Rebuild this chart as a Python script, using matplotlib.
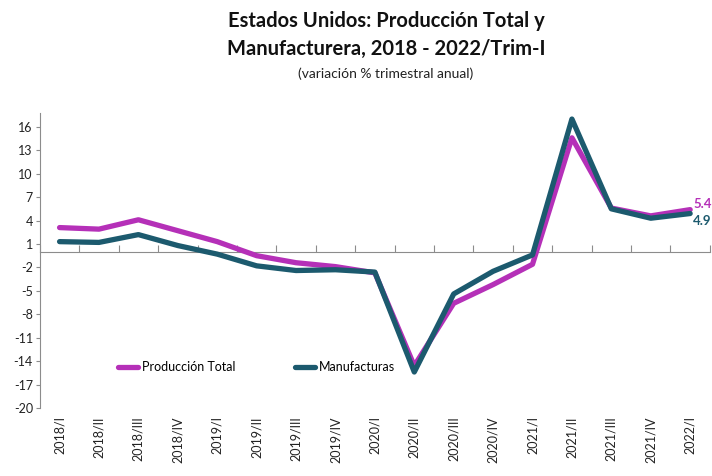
import matplotlib.pyplot as plt
import numpy as np

# Quarterly annual % change, US total and manufacturing output
quarters = ["2018/I", "2018/II", "2018/III", "2018/IV",
            "2019/I", "2019/II", "2019/III", "2019/IV",
            "2020/I", "2020/II", "2020/III", "2020/IV",
            "2021/I", "2021/II", "2021/III", "2021/IV",
            "2022/I"]
produccion_total = [3.1, 2.9, 4.1, 2.7, 1.3, -0.5, -1.4, -1.9,
                    -2.7, -14.6, -6.6, -4.2, -1.6, 14.6, 5.6, 4.6, 5.4]
manufacturas = [1.3, 1.2, 2.2, 0.8, -0.3, -1.8, -2.4, -2.3,
                -2.6, -15.4, -5.4, -2.5, -0.4, 17.0, 5.5, 4.3, 4.9]
yticks = [16, 13, 10, 7, 4, 1, -2, -5, -8, -11, -14, -17, -20]

COL_TOTAL = "#B530B8"
COL_MANUF = "#1C5A6E"
GRIS = "#8C8C8C"
FONT = "Lato"

plt.rcParams["font.family"] = [FONT, "DejaVu Sans"]

fig = plt.figure(figsize=(7.12, 4.76), dpi=100)
ax = fig.add_axes([0.056, 0.143, 0.941, 0.62])

x = np.arange(len(quarters))
ax.plot(x, produccion_total, color=COL_TOTAL, lw=3.8,
        solid_capstyle="round", solid_joinstyle="round",
        label="Producción Total", zorder=3)
ax.plot(x, manufacturas, color=COL_MANUF, lw=3.8,
        solid_capstyle="round", solid_joinstyle="round",
        label="Manufacturas", zorder=4)

ymin, ymax = -20, 17.8
ax.set_ylim(ymin, ymax)
ax.set_xlim(-0.5, len(quarters) - 0.5)

# y axis
ax.set_yticks(yticks)
ax.set_yticklabels([str(v) for v in yticks], fontsize=9, color="#222222")
ax.tick_params(axis="y", length=3, width=0.8, color=GRIS, pad=2)
ax.spines["left"].set_color(GRIS)
ax.spines["left"].set_linewidth(0.8)
for s in ("top", "right", "bottom"):
    ax.spines[s].set_visible(False)

# category labels at the bottom, rotated
ax.set_xticks(x)
ax.set_xticklabels(quarters, rotation=90, fontsize=9, color="#222222")
ax.tick_params(axis="x", length=0, pad=6)

# zero line with category boundary ticks
zero_frac = (0 - ymin) / (ymax - ymin)
zx = ax.secondary_xaxis(zero_frac)
zx.set_xticks(np.arange(len(quarters) + 1) - 0.5)
zx.set_xticklabels([])
zx.tick_params(axis="x", length=5, width=0.8, color=GRIS, direction="out")
for sp in zx.spines.values():
    sp.set_color(GRIS)
    sp.set_linewidth(0.8)

# end-of-series value labels
ax.text(x[-1] + 0.08, produccion_total[-1] + 0.7, f"{produccion_total[-1]:.1f}",
        color=COL_TOTAL, fontsize=9.5, fontweight="bold",
        ha="left", va="center", clip_on=False, zorder=5)
ax.text(x[-1] + 0.08, manufacturas[-1] - 0.9, f"{manufacturas[-1]:.1f}",
        color=COL_MANUF, fontsize=9.5, fontweight="bold",
        ha="left", va="center", clip_on=False, zorder=5)

leg = ax.legend(loc="lower left", bbox_to_anchor=(0.1, 0.08), ncol=2,
                frameon=False, fontsize=9, handlelength=1.6,
                columnspacing=4.8, handletextpad=0.3)

fig.text(0.542, 0.955, "Estados Unidos: Producción Total y",
         ha="center", va="center", fontsize=14.5, fontweight="bold",
         color="#111111")
fig.text(0.542, 0.897, "Manufacturera, 2018 - 2022/Trim-I",
         ha="center", va="center", fontsize=14.5, fontweight="bold",
         color="#111111")
fig.text(0.542, 0.845, "(variación % trimestral anual)",
         ha="center", va="center", fontsize=10, color="#222222")

fig.savefig("out.png", dpi=100)
